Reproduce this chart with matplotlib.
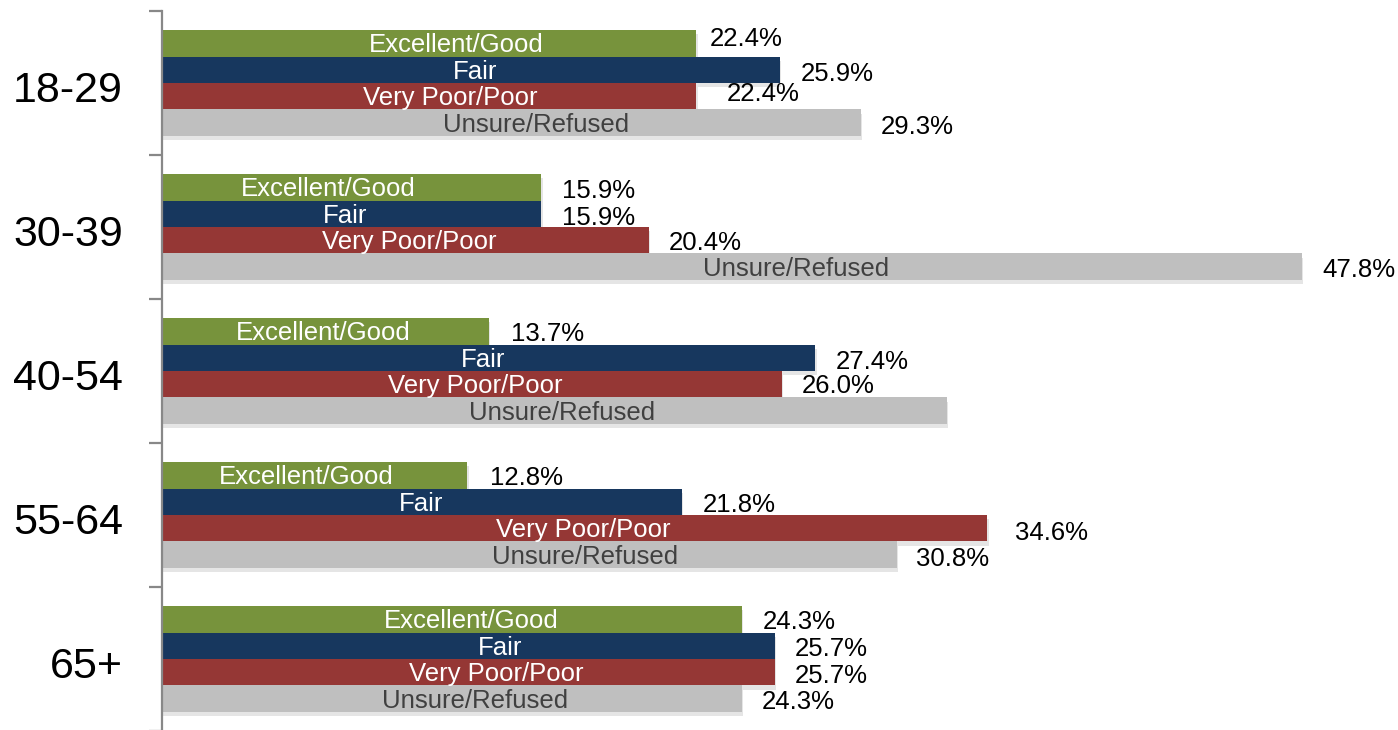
import matplotlib
matplotlib.use("Agg")
import matplotlib.pyplot as plt
import matplotlib.patheffects as pe
import matplotlib.transforms as mtransforms
import numpy as np

# ---- data ----
age_groups = ["18-29", "30-39", "40-54", "55-64", "65+"]
series_names = ["Excellent/Good", "Fair", "Very Poor/Poor", "Unsure/Refused"]
excellent_good = [22.4, 15.9, 13.7, 12.8, 24.3]
fair = [25.9, 15.9, 27.4, 21.8, 25.7]
very_poor_poor = [22.4, 20.4, 26.0, 34.6, 25.7]
unsure_refused = [29.3, 47.8, 32.9, 30.8, 24.3]
# value labels shown in the chart (40-54 Unsure/Refused has none)
show_value = [
    [True, True, True, True],
    [True, True, True, True],
    [True, True, True, False],
    [True, True, True, True],
    [True, True, True, True],
]

# ---- style / layout ----
colors = ["#77933C", "#17375E", "#953735", "#BFBFBF"]
name_colors = ["white", "white", "white", "#404040"]
# horizontal shift (pixels) of the in-bar series names from the bar centre
name_dx = [
    [27, 4, 21, 25],
    [-23, -7, 4, 64],
    [-2, -6, 3, 8],
    [-8, -1, 9, 56],
    [19, 32, 28, 23],
]
# value-label offsets (pixels) from bar end: dx right, dy down
val_dx = [[14, 21, 31, 20], [21, 21, 20, 20], [22, 20, 20, 20], [23, 21, 28, 19], [21, 20, 20, 20]]
val_dy = [[-6, 2, -4, 2], [2, 2, 1, 1], [1, 2, 0, 0], [1, 1, 3, 2], [1, 1, 2, 1]]
text_shift = 2  # pixels down

plt.rcParams['font.family'] = ['Liberation Sans', 'DejaVu Sans']

W, H = 1398, 730
fig = plt.figure(figsize=(W / 100, H / 100), dpi=100)
ax_left, ax_right = 162, 1398
ax_top, ax_bottom = 11, 731
ax = fig.add_axes([ax_left / W, 1 - ax_bottom / H, (ax_right - ax_left) / W, (ax_bottom - ax_top) / H])

px_per_pct = (1302 - 162) / 47.8
ax.set_xlim(0, (ax_right - ax_left) / px_per_pct)
ax.set_ylim(len(age_groups) - 0.5, -0.5)

all_series = [excellent_good, fair, very_poor_poor, unsure_refused]
bar_h = 0.184
n = len(all_series)
y = np.arange(len(age_groups))
shadow = [pe.SimplePatchShadow(offset=(1, -3), shadow_rgbFace="#aaaaaa", alpha=0.3), pe.Normal()]

for si, vals in enumerate(all_series):
    pos = y + (si - (n - 1) / 2) * bar_h
    bars = ax.barh(pos, vals, height=bar_h, color=colors[si], edgecolor="none", zorder=2)
    for b in bars:
        b.set_path_effects(shadow)
    for gi, (p, v) in enumerate(zip(pos, vals)):
        ax.annotate(series_names[si], xy=(v / 2, p), xytext=(name_dx[gi][si], -text_shift),
                    textcoords="offset pixels", ha="center", va="center",
                    color=name_colors[si], fontsize=18.5, zorder=3)
        if show_value[gi][si]:
            ax.annotate(f"{v:.1f}%", xy=(v, p),
                        xytext=(val_dx[gi][si], -val_dy[gi][si] - text_shift),
                        textcoords="offset pixels", ha="left", va="center",
                        color="black", fontsize=18.5, zorder=3)

# axis styling
for s in ["top", "right", "bottom"]:
    ax.spines[s].set_visible(False)
ax.spines["left"].set_color("#888888")
ax.spines["left"].set_linewidth(1.6)
ax.set_xticks([])
ax.set_yticks(np.arange(len(age_groups) + 1) - 0.5)
ax.set_yticklabels([])
ax.tick_params(axis="y", which="major", direction="out", length=9.5, width=1.6, color="#888888")
ax.set_yticks(y, minor=True)
ax.set_yticklabels(age_groups, minor=True, fontsize=31)
ax.tick_params(axis="y", which="minor", length=0, pad=28)
shift = mtransforms.ScaledTranslation(0, -3 / 100, fig.dpi_scale_trans)
for lbl in ax.get_yticklabels(minor=True):
    lbl.set_transform(lbl.get_transform() + shift)

fig.savefig("out.png", dpi=100)
